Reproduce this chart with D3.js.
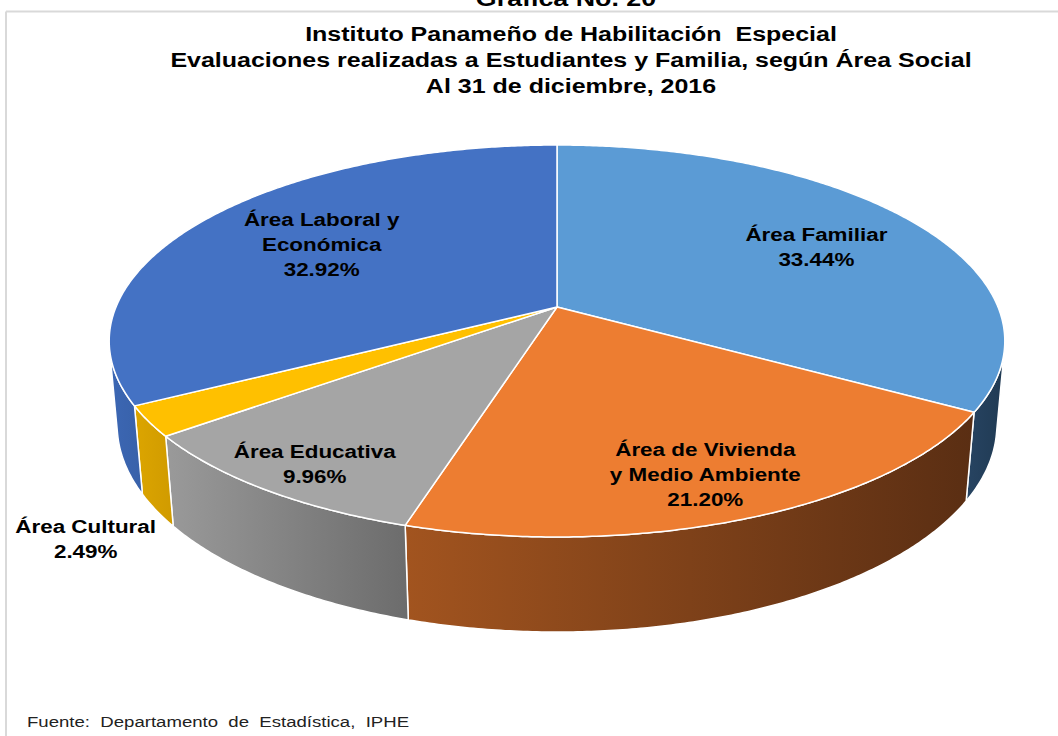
<!DOCTYPE html>
<html><head><meta charset="utf-8">
<script src="https://cdn.jsdelivr.net/npm/d3@7"></script>
<style>
html,body{margin:0;padding:0;background:#fff;}
svg{display:block;font-family:"Liberation Sans",Arial,sans-serif;}
</style></head>
<body>
<svg id="chart" width="1058" height="736"></svg>
<script>
// ---- data ----
const categories = ["Área Familiar", "Área de Vivienda y Medio Ambiente", "Área Educativa", "Área Cultural", "Área Laboral y Económica"];
const labelLines = [["Área Familiar"], ["Área de Vivienda", "y Medio Ambiente"], ["Área Educativa"], ["Área Cultural"], ["Área Laboral y", "Económica"]];
const values = [33.44, 21.20, 9.96, 2.49, 32.92];
const titleLines = ["Instituto Panameño de Habilitación  Especial", "Evaluaciones realizadas a Estudiantes y Familia, según Área Social", "Al 31 de diciembre, 2016"];
const topTitle = "Gráfica No. 20";
const source = "Fuente:  Departamento  de  Estadística,  IPHE";

// ---- styles ----
const topColors = ["#5B9BD5", "#ED7D31", "#A5A5A5", "#FFC000", "#4472C4"];
const wallColors = [["#274462", "#203A53"], ["#A2541F", "#5A2E13"], ["#9A9A9A", "#6C6C6C"], ["#DCA500", "#D09B00"], ["#3C67B4", "#3861A9"]];
const labelRadius = [0.72, 0.8, 0.85, 1.12, 0.66];
const labelNudge = [[0, 0], [0, 1], [0, 1], [0, -2], [1, -6]];

const svg = d3.select("#chart");
const W = 1058, H = 736;

// stretched text helper
function stext(parent, x, y, str, size, sx, weight, fill, anchor) {
  const g = parent.append("g").attr("transform", `translate(${x},${y}) scale(${sx},1)`);
  return g.append("text").attr("x", 0).attr("y", 0).attr("text-anchor", anchor || "middle")
    .attr("font-weight", weight).attr("font-size", size).attr("fill", fill)
    .style("white-space", "pre").text(str);
}

// frame
svg.append("line").attr("x1", 6).attr("x2", W).attr("y1", 11.5).attr("y2", 11.5).attr("stroke", "#D9D9D9").attr("stroke-width", 2);
svg.append("line").attr("x1", 6).attr("x2", 6).attr("y1", 11.5).attr("y2", H).attr("stroke", "#D9D9D9").attr("stroke-width", 2);

stext(svg, 566, 6, topTitle, 22, 1.22, "bold", "#000");

titleLines.forEach((t, i) => stext(svg, 571, 41 + i * 26, t, 20, 1.25, "bold", "#000"));

stext(svg, 27, 727, source, 15, 1.24, "normal", "#222", "start");

// ---- 3D projection ----
const cx = 557, ay = 307, A = 441, sinT = 0.431, cosT = 0.902, D = 5.2, h = 0.212;
function proj(X, Y, Z) {
  const yv = Y * cosT + Z * sinT, zv = Z * cosT - Y * sinT;
  const w = 1 + zv / D;
  return [cx + A * X / w, ay - A * yv / w];
}
const pt = (a, r, Y) => proj(r * Math.sin(a), Y, r * Math.cos(a));

const pie = d3.pie().sort(null).value(d => d)(values);
const line = d3.line();
const step = Math.PI / 360;
function arcPts(a0, a1, Y) {
  const n = Math.max(2, Math.ceil((a1 - a0) / step));
  return d3.range(n + 1).map(i => pt(a0 + (a1 - a0) * i / n, 1, Y));
}

// visible wall range (front facing)
const zVis = -1 / (D * cosT);
const visA0 = Math.PI - Math.acos(-zVis), visA1 = Math.PI + Math.acos(-zVis);

const defs = svg.append("defs");
const gWalls = svg.append("g"), gTops = svg.append("g"), gLabels = svg.append("g");

pie.forEach((s, i) => {
  const a0 = Math.max(s.startAngle, visA0), a1 = Math.min(s.endAngle, visA1);
  if (a1 > a0) {
    const top = arcPts(a0, a1, 0), bot = arcPts(a0, a1, -h).reverse();
    const pts = top.concat(bot);
    const xs = pts.map(p => p[0]);
    const gid = "wg" + i;
    const lg = defs.append("linearGradient").attr("id", gid).attr("gradientUnits", "userSpaceOnUse")
      .attr("x1", d3.min(xs)).attr("x2", d3.max(xs)).attr("y1", 0).attr("y2", 0);
    lg.append("stop").attr("offset", 0).attr("stop-color", wallColors[i][0]);
    lg.append("stop").attr("offset", 1).attr("stop-color", wallColors[i][1]);
    gWalls.append("path").attr("d", line(pts) + "Z").attr("fill", `url(#${gid})`)
      .attr("stroke", "#fff").attr("stroke-width", 1.5).attr("stroke-linejoin", "round");
  }
  const tp = [proj(0, 0, 0)].concat(arcPts(s.startAngle, s.endAngle, 0));
  gTops.append("path").attr("d", line(tp) + "Z").attr("fill", topColors[i])
    .attr("stroke", "#fff").attr("stroke-width", 1.5).attr("stroke-linejoin", "round");
});

// labels
pie.forEach((s, i) => {
  const mid = (s.startAngle + s.endAngle) / 2;
  let [x, y] = pt(mid, labelRadius[i], 0);
  if (labelRadius[i] > 1) { y += 100; x -= 8; }
  x += labelNudge[i][0]; y += labelNudge[i][1];
  const lines = labelLines[i].concat([values[i].toFixed(2) + "%"]);
  const lh = 25;
  const y0 = y - (lines.length - 1) * lh / 2 + 11;
  lines.forEach((t, k) => stext(gLabels, x, y0 + k * lh, t, 19, 1.18, "bold", "#000"));
});
</script>
</body></html>
